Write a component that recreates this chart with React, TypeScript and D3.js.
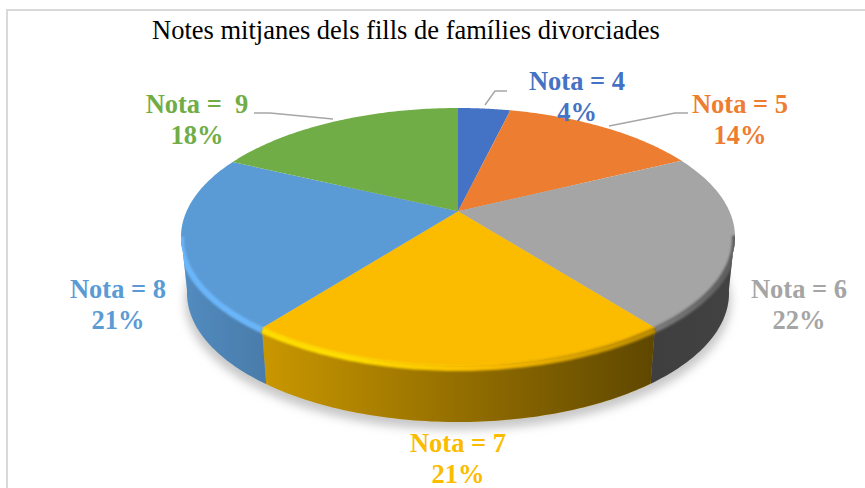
import React from "react";
import * as d3 from "d3";

const W = 865, H = 488;
const categories = ["Nota = 4", "Nota = 5", "Nota = 6", "Nota = 7", "Nota = 8", "Nota =  9"];
const percents = [4, 14, 22, 21, 21, 18];
// slice sizes as measured on the drawn pie (the printed labels are rounded)
const shares = [3.7, 14.0, 21.85, 20.85, 21.7, 17.9];
const colors = ["#4472c4", "#ed7d31", "#a5a5a5", "#fbbc00", "#5b9bd5", "#70ad47"];
const title = "Notes mitjanes dels fills de famílies divorciades";

const labelPos = [[577, 90], [740, 113], [799, 298], [458, 452], [118, 298], [197, 113]];
const leaders = [
  [[485, 105], [495, 91], [507, 91]],
  [[609, 126], [675, 113], [688, 113]],
  [[333, 119], [270, 113], [254, 113]],
];

const cx = 458, cy = 237, rx = 277, ry = 129;
const rxB = 271, cyB = 293;
const a = 0.2; // perspective shift of the apex

function project(theta: number) {
  const x = Math.sin(theta), y = Math.cos(theta);
  const d = 1 + a * y;
  return [x * Math.sqrt(1 - a * a) / d, (y + a) / d];
}
const top = ([x, y]: number[]) => [cx + x * rx, cy - y * ry];
const bot = ([x, y]: number[]) => [cx + x * rxB, cyB - y * ry];
const line = d3.line();

export default function App() {
  const arcs = d3.pie<number>().sort(null)(shares);
  const slices = arcs.map((s, i) => {
    const n = 80;
    const pts = d3.range(n + 1).map((k) => project(s.startAngle + ((s.endAngle - s.startAngle) * k) / n));
    const apex = [cx, cy - a * ry];
    const face = line([apex, ...pts.map(top)] as any) + "Z";
    const low = pts.filter((p) => p[1] <= 0.03);
    const wall = low.length > 1 ? line([...low.map(top), ...low.slice().reverse().map(bot)] as any) + "Z" : null;
    const rim = low.length > 1 ? line(low.map(top).map(([x, y]) => [x, y + 2]) as any) : null;
    return { i, face, wall, rim };
  });
  return (
    <svg width={W} height={H} style={{ position: "absolute", left: 0, top: 0, background: "#fff" }}>
      <defs>
        <filter id="blur" x="-10%" y="-10%" width="120%" height="130%"><feGaussianBlur stdDeviation="5" /></filter>
        <filter id="rimBlur" filterUnits="userSpaceOnUse" x="0" y="0" width={W} height={H}><feGaussianBlur stdDeviation="1.2" /></filter>
        <linearGradient id="shade" gradientUnits="userSpaceOnUse" x1={cx - rx} x2={cx + rx} y1={0} y2={0}>
          <stop offset="0" stopColor="#000" stopOpacity="0.1" />
          <stop offset="0.15" stopColor="#000" stopOpacity="0.2" />
          <stop offset="0.85" stopColor="#000" stopOpacity="0.62" />
          <stop offset="1" stopColor="#000" stopOpacity="0.6" />
        </linearGradient>
        {colors.map((c, i) => (
          <linearGradient key={i} id={"rim" + i} gradientUnits="userSpaceOnUse" x1={cx - rx} x2={cx + rx} y1={0} y2={0}>
            <stop offset="0" stopColor={d3.color(c)!.brighter(0.45).formatHex()} />
            <stop offset="0.3" stopColor={d3.color(c)!.brighter(0.45).formatHex()} />
            <stop offset="0.55" stopColor={c} />
            <stop offset="0.85" stopColor={d3.color(c)!.darker(0.8).formatHex()} />
            <stop offset="1" stopColor={d3.color(c)!.darker(1.6).formatHex()} />
          </linearGradient>
        ))}
        <clipPath id="body">
          {slices.map((s) => <path key={s.i} d={s.face} />)}
          {slices.map((s) => s.wall && <path key={"w" + s.i} d={s.wall} />)}
        </clipPath>
      </defs>
      <path d="M7 488V10H865" fill="none" stroke="#d9d9d9" strokeWidth="2" />
      <ellipse cx={cx} cy={cyB + 8} rx={rxB + 2} ry={ry} fill="#c8c8c8" filter="url(#blur)" />
      {slices.map((s) => s.wall && <path key={s.i} d={s.wall} fill={colors[s.i]} />)}
      {slices.map((s) => s.wall && <path key={s.i} d={s.wall} fill="url(#shade)" />)}
      {slices.map((s) => <path key={s.i} d={s.face} fill={colors[s.i]} />)}
      <g clipPath="url(#body)">
        {slices.map((s) => s.rim && (
          <g key={s.i} filter="url(#rimBlur)">
            <path d={s.rim} fill="none" stroke={`url(#rim${s.i})`} strokeWidth="6" />
          </g>
        ))}
      </g>
      {leaders.map((l, i) => (
        <path key={i} d={line(l as any)!} fill="none" stroke="#a6a6a6" strokeWidth="1.5" />
      ))}
      <text x={152} y={39} fontFamily="Liberation Serif" fontSize="26.5" fill="#000">{title}</text>
      {categories.map((c, i) => (
        <text key={c} textAnchor="middle" fontFamily="Liberation Serif" fontWeight="bold" fontSize="26.5" fill={colors[i]} style={{ whiteSpace: "pre" }}>
          <tspan x={labelPos[i][0]} y={labelPos[i][1]}>{c}</tspan>
          <tspan x={labelPos[i][0]} y={labelPos[i][1] + 30.5}>{percents[i]}%</tspan>
        </text>
      ))}
    </svg>
  );
}
